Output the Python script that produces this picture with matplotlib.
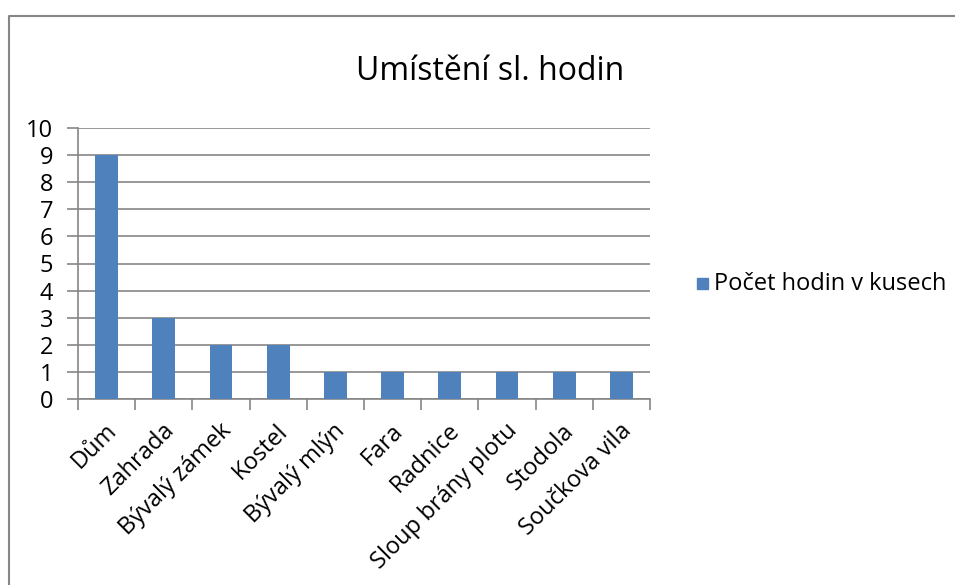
import matplotlib.pyplot as plt
import matplotlib.transforms as mtransforms
from matplotlib.lines import Line2D
from matplotlib.patches import Rectangle

plt.rcParams['font.family'] = ['Open Sans', 'DejaVu Sans']

# data
places = ['Dům', 'Zahrada', 'Bývalý zámek', 'Kostel', 'Bývalý mlýn', 'Fara',
          'Radnice', 'Sloup brány plotu', 'Stodola', 'Součkova vila']
counts = [9, 3, 2, 2, 1, 1, 1, 1, 1, 1]

grid_col = '#868686'
bar_col = '#4F81BD'

fig = plt.figure(figsize=(9.55, 5.85), dpi=100)
# chart border (only top and left are visible in the crop)
fig.lines.append(Line2D([8.5 / 955, 8.5 / 955, 1.0], [0, 1 - 15.5 / 585, 1 - 15.5 / 585],
                        transform=fig.transFigure, color=grid_col, linewidth=1.5))

ax = fig.add_axes([78 / 955, 1 - 399 / 585, (650 - 78) / 955, (399 - 128) / 585])
x = range(len(places))
ax.bar(x, counts, width=0.4, color=bar_col, zorder=3)

ax.set_xlim(-0.5, len(places) - 0.5)
ax.set_ylim(0, 10)
ax.set_yticks(range(0, 11))
ax.yaxis.grid(True, color=grid_col, linewidth=1.2, zorder=0)
ax.set_xticks([i - 0.5 for i in range(len(places) + 1)])
ax.set_xticklabels([])

# category labels, rotated, right end just under each category
lbl_trans = ax.get_xaxis_transform() + mtransforms.ScaledTranslation(
    -0.02, -0.20, fig.dpi_scale_trans)
for i, name in zip(x, places):
    ax.text(i, 0, name, transform=lbl_trans, rotation=45, ha='right', va='top',
            rotation_mode='anchor', fontsize=17)

ax.tick_params(axis='x', length=8, color=grid_col, width=1.2)
ax.tick_params(axis='y', length=8, color=grid_col, width=1.2, labelsize=17, pad=10)

for s in ['top', 'right']:
    ax.spines[s].set_visible(False)
for s in ['left', 'bottom']:
    ax.spines[s].set_color(grid_col)
    ax.spines[s].set_linewidth(1.2)

fig.text(490 / 955, 1 - 72 / 585, 'Umístění sl. hodin', fontsize=23,
         ha='center', va='center')

# legend
fig.patches.append(Rectangle((697 / 955, 1 - 289 / 585), 11 / 955, 11 / 585,
                             transform=fig.transFigure, color=bar_col))
fig.text(714 / 955, 1 - 284 / 585, 'Počet hodin v kusech', fontsize=17,
         ha='left', va='center')

fig.savefig('out.png', dpi=100)
